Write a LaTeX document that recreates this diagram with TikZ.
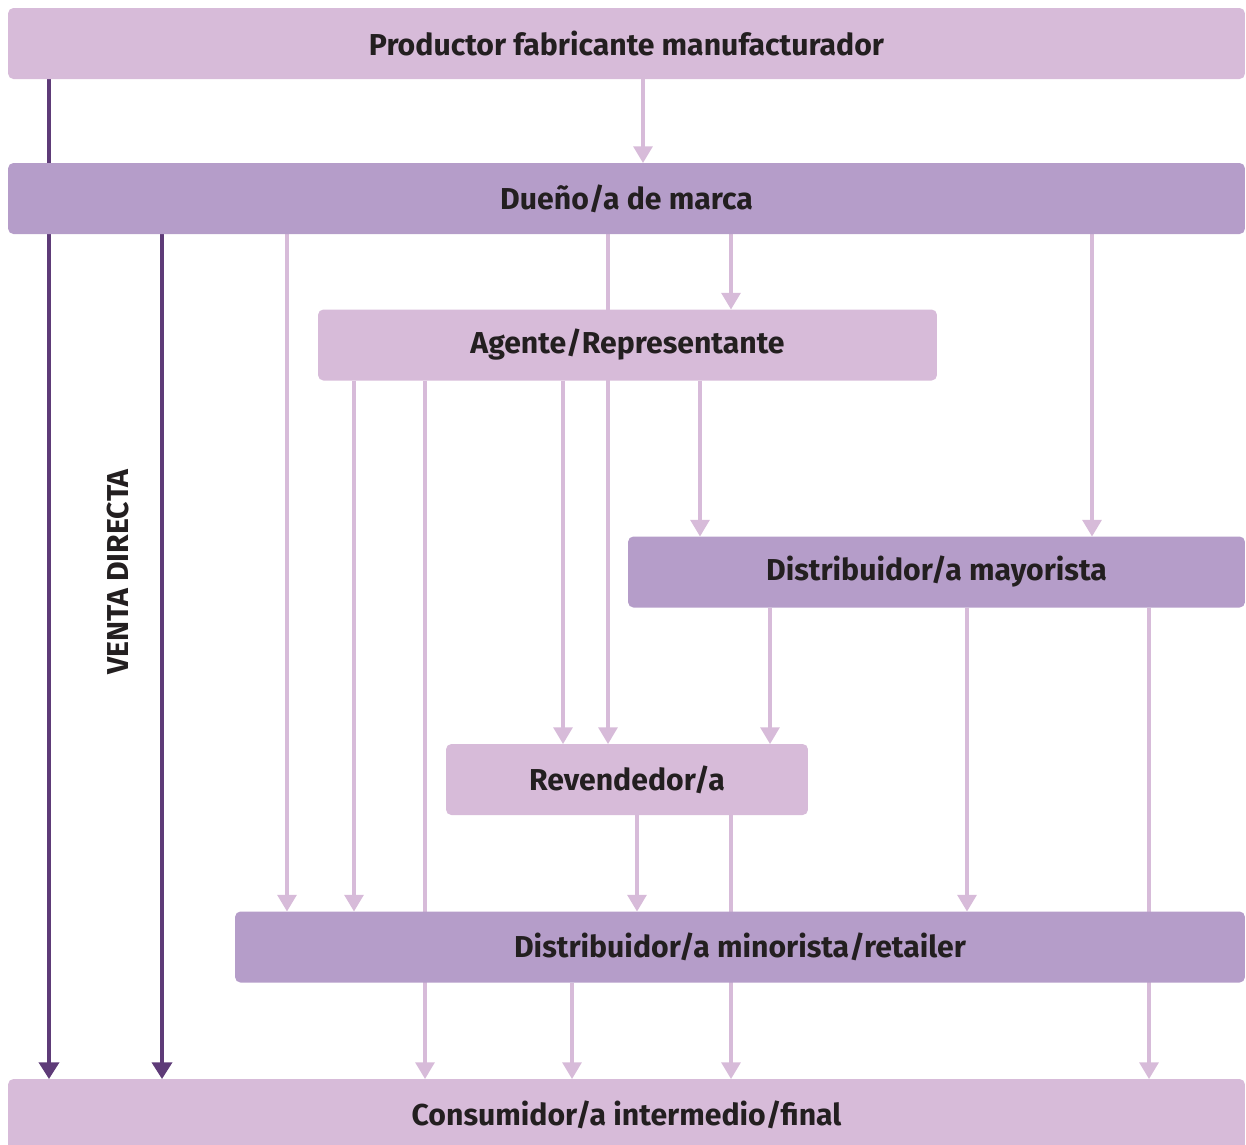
\documentclass[tikz,border=0pt]{standalone}
\usepackage{fontspec}
\setmainfont{Fira Sans}
\usetikzlibrary{arrows.meta,backgrounds}
\definecolor{lila}{HTML}{D7BBD9}
\definecolor{malva}{HTML}{B59DC9}
\definecolor{uva}{HTML}{5E3B78}
\definecolor{tinta}{HTML}{231F20}
\begin{document}
\begin{tikzpicture}[x=0.02cm,y=-0.02cm,
          box/.style={rounded corners=3pt,inner sep=0pt,outer sep=0pt,minimum height=1.42cm,
            font=\fontsize{17.2}{20}\selectfont\bfseries,text=tinta},
          clara/.style={box,fill=lila},oscura/.style={box,fill=malva},
          fl/.style={draw=lila,line width=1.8pt,-{Triangle[width=10.8pt,length=9.5pt]}},
          fd/.style={draw=uva,line width=2pt,-{Triangle[width=11.4pt,length=9.5pt]}}]
          \useasboundingbox (0,0) rectangle (1246,1144);
          \node[clara,minimum width=24.74cm](prod) at (626.5,43.5){Productor fabricante manufacturador};
          \node[oscura,minimum width=24.74cm](dueno) at (626.5,198.5){Dueño/a de marca};
          \node[clara,minimum width=12.38cm](agente) at (627.5,345){Agente/Representante};
          \node[oscura,minimum width=12.34cm](mayor) at (936.5,572){Distribuidor/a mayorista};
          \node[clara,minimum width=7.24cm](reven) at (627,779.5){Revendedor/a};
          \node[oscura,minimum width=20.2cm](minor) at (740,947){Distribuidor/a minorista/retailer};
          \node[clara,minimum width=24.74cm](consu) at (626.5,1114.5){Consumidor/a intermedio/final};
          \node[rotate=90,font=\fontsize{17.2}{20}\selectfont\bfseries,text=tinta](venta) at (118,572){VENTA DIRECTA};
          \begin{scope}[on background layer]
          % venta directa
          \draw[fd](prod.south -| 49,0)--(consu.north -| 49,0);
          \draw[fd](dueno.south -| 162,0)--(consu.north -| 162,0);
          % desde productor y dueno
          \draw[fl](prod.south -| 643,0)--(dueno.north -| 643,0);
          \draw[fl](dueno.south -| 287,0)--(minor.north -| 287,0);
          \draw[fl](dueno.south -| 608,0)--(reven.north -| 608,0);
          \draw[fl](dueno.south -| 731,0)--(agente.north -| 731,0);
          \draw[fl](dueno.south -| 1092,0)--(mayor.north -| 1092,0);
          % desde agente
          \draw[fl](agente.south -| 354,0)--(minor.north -| 354,0);
          \draw[fl](agente.south -| 425,0)--(consu.north -| 425,0);
          \draw[fl](agente.south -| 563,0)--(reven.north -| 563,0);
          \draw[fl](agente.south -| 700,0)--(mayor.north -| 700,0);
          % desde mayorista
          \draw[fl](mayor.south -| 770,0)--(reven.north -| 770,0);
          \draw[fl](mayor.south -| 967,0)--(minor.north -| 967,0);
          \draw[fl](mayor.south -| 1149,0)--(consu.north -| 1149,0);
          % desde revendedor y minorista
          \draw[fl](reven.south -| 637,0)--(minor.north -| 637,0);
          \draw[fl](reven.south -| 731,0)--(consu.north -| 731,0);
          \draw[fl](minor.south -| 572,0)--(consu.north -| 572,0);
          \end{scope}
        \end{tikzpicture}
\end{document}
